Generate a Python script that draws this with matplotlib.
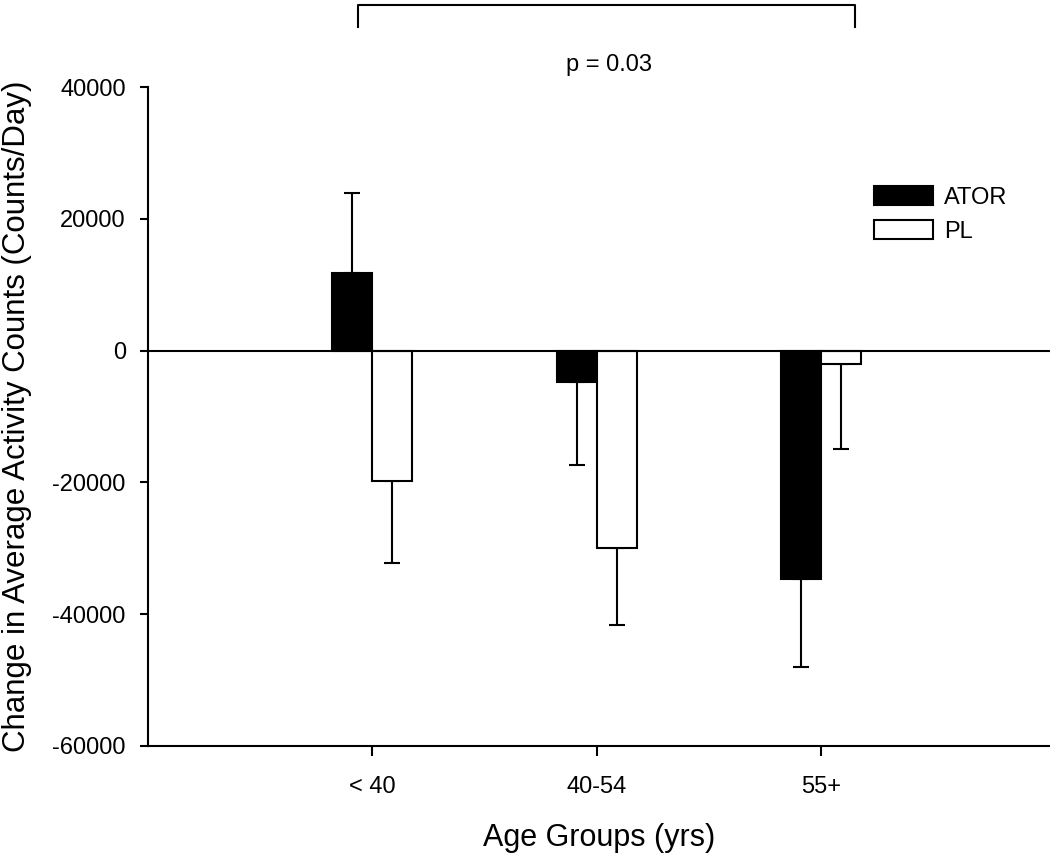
import numpy as np
import matplotlib
matplotlib.use('Agg')
import matplotlib.pyplot as plt

plt.rcParams['font.family'] = ['Liberation Sans', 'DejaVu Sans']
plt.rcParams['axes.unicode_minus'] = False

# --- data ---
groups = ['< 40', '40-54', '55+']
ator_mean = [11800, -4700, -34600]
ator_se = [12100, 12700, 13400]
pl_mean = [-19800, -29900, -2000]
pl_se = [12500, 11700, 13000]
p_text = 'p = 0.03'

fig = plt.figure(figsize=(10.5, 8.58), dpi=100)
ax = fig.add_axes([148 / 1050, 112 / 858, 1 - 148 / 1050, (746 - 87) / 858])

x = np.arange(1, len(groups) + 1)
w = 0.178


def one_sided(vals, errs):
    lo = [e if v < 0 else 0 for v, e in zip(vals, errs)]
    hi = [e if v >= 0 else 0 for v, e in zip(vals, errs)]
    return [lo, hi]


ax.bar(x - w / 2, ator_mean, w, color='black', edgecolor='black', linewidth=1.5,
       label='ATOR', zorder=3)
ax.bar(x + w / 2, pl_mean, w, color='white', edgecolor='black', linewidth=1.5,
       label='PL', zorder=3)
ax.errorbar(x - w / 2, ator_mean, yerr=one_sided(ator_mean, ator_se), fmt='none',
            ecolor='black', elinewidth=1.5, capsize=6, capthick=1.5, zorder=2)
ax.errorbar(x + w / 2, pl_mean, yerr=one_sided(pl_mean, pl_se), fmt='none',
            ecolor='black', elinewidth=1.5, capsize=6, capthick=1.5, zorder=2)

ax.axhline(0, color='black', linewidth=1.5, zorder=4)

ax.set_xlim(0, 4.02)
ax.set_ylim(-60000, 40000)
ax.set_yticks(np.arange(-60000, 40001, 20000))
ax.set_xticks(x)
ax.set_xticklabels(groups)

for s in ['top', 'right']:
    ax.spines[s].set_visible(False)
for s in ['left', 'bottom']:
    ax.spines[s].set_linewidth(1.5)
ax.tick_params(axis='y', direction='out', length=6, width=1.5, labelsize=17, pad=10)
ax.tick_params(axis='x', direction='out', length=7.5, width=1.5, labelsize=17, pad=14)

ax.set_ylabel('Change in Average Activity Counts (Counts/Day)', fontsize=22.5)
ax.yaxis.set_label_coords(-0.1286, 0.5)
ax.set_xlabel('Age Groups (yrs)', fontsize=22)
ax.xaxis.set_label_coords(0.5, -0.117)

# significance bracket
bx = [0.936, 0.936, 3.152, 3.152]
by = [49100, 52400, 52400, 49100]
ax.plot(bx, by, color='black', linewidth=1.5, clip_on=False)
ax.text(2.054, 43340, p_text, ha='center', va='center', fontsize=17)

ax.legend(loc='upper left', bbox_to_anchor=((874 - 148) / 902, 1 - (186 - 87) / 659),
          frameon=False, fontsize=17, handlelength=2.5, handleheight=0.85,
          handletextpad=0.47, labelspacing=0.48, borderpad=0, borderaxespad=0)

fig.savefig('out.png', dpi=100, facecolor='white')
